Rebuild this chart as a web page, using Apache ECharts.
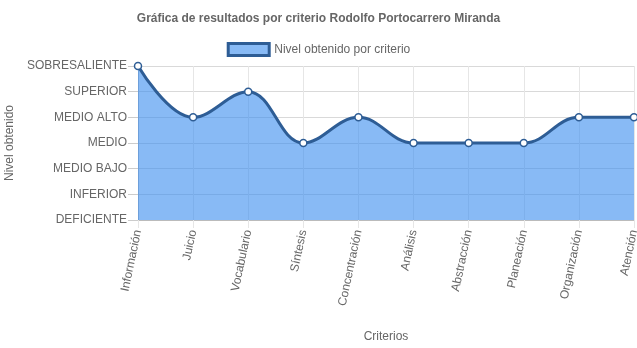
<!DOCTYPE html>
<html>
<head>
<meta charset="utf-8">
<script src="https://cdn.jsdelivr.net/npm/echarts@6/dist/echarts.min.js"></script>
<style>html,body{margin:0;padding:0;background:#fff}#c{width:637px;height:348px}</style>
</head>
<body>
<div id="c"></div>
<script>
var categories = ["Información","Juicio","Vocabulario","Síntesis","Concentración","Análisis","Abstracción","Planeación","Organización","Atención"];
var levels = ["DEFICIENTE","INFERIOR","MEDIO BAJO","MEDIO","MEDIO ALTO","SUPERIOR","SOBRESALIENTE"];
var values = [6,4,5,3,4,3,3,3,4,4];
var seriesName = "Nivel obtenido por criterio";

var font = "Liberation Sans, Arial, Helvetica, sans-serif";
var chart = echarts.init(document.getElementById('c'), null, {renderer:'canvas'});
chart.setOption({
  animation:false,
  textStyle:{fontFamily:font},
  title:{text:"Gráfica de resultados por criterio Rodolfo Portocarrero Miranda", left:'center', top:8,
    textStyle:{fontFamily:font,fontSize:12,fontWeight:'bold',color:'#666'}},
  legend:{top:37, left:'center', itemWidth:41, itemHeight:12, itemGap:6,
    textStyle:{fontFamily:font,fontSize:12,color:'#666'},
    data:[{name:seriesName, icon:'rect', itemStyle:{color:'#88baf5', borderColor:'#2e5d95', borderWidth:3}}]},
  grid:{left:138, right:3, top:66, bottom:128, containLabel:false, outerBoundsMode:'none'},
  xAxis:{type:'category', data:categories, boundaryGap:false,
    name:'Criterios', nameLocation:'middle', nameGap:111,
    nameTextStyle:{fontFamily:font,fontSize:12,color:'#666'},
    axisLine:{lineStyle:{color:'#bbb'}},
    axisTick:{show:true, length:8, lineStyle:{color:'#e6e6e6'}},
    splitLine:{show:true, lineStyle:{color:'#e6e6e6'}},
    axisLabel:{rotate:78, fontSize:12, color:'#666', margin:10, interval:0}},
  yAxis:{type:'value', min:0, max:6, interval:1,
    name:'Nivel obtenido', nameLocation:'middle', nameGap:116,
    nameTextStyle:{fontFamily:font,fontSize:12,color:'#666'},
    axisLine:{show:true, lineStyle:{color:'#bbb'}},
    axisTick:{show:true, length:10, lineStyle:{color:'#ccc'}},
    splitLine:{show:true, lineStyle:{color:'#d9d9d9'}},
    axisLabel:{fontSize:12, color:'#666', margin:11, formatter:function(v){return levels[v];}}},
  series:[{name:seriesName, type:'line', data:values, smooth:0.4, clip:false,
    symbol:'circle', symbolSize:7,
    lineStyle:{color:'#2e5d95', width:3},
    itemStyle:{color:'#fff', borderColor:'#2e5d95', borderWidth:1.5},
    areaStyle:{color:'rgb(57,140,238)', opacity:0.6}}]
});
</script>
</body>
</html>
